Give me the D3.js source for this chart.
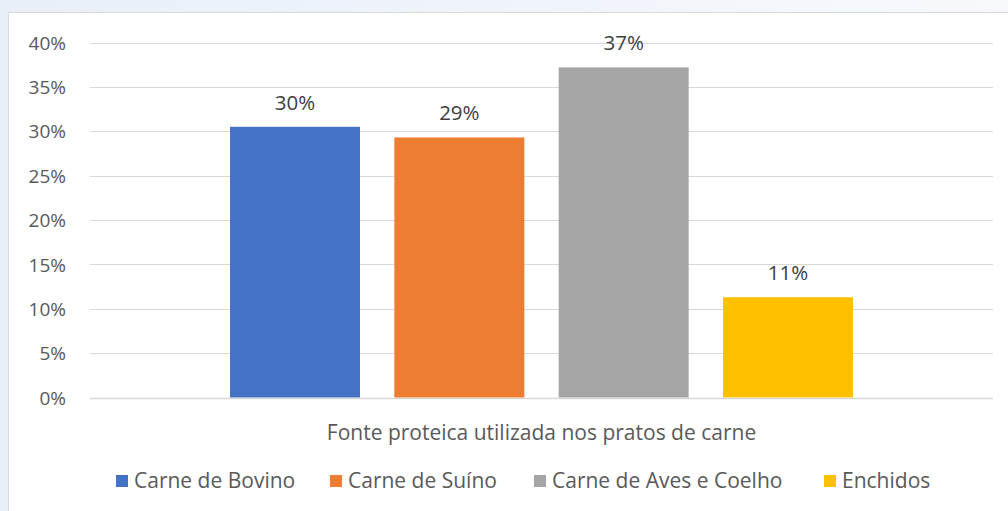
<!DOCTYPE html>
<html>
<head>
<meta charset="utf-8">
<script src="https://cdn.jsdelivr.net/npm/d3@7"></script>
<style>
  html, body { margin: 0; padding: 0; background: #ffffff; }
  svg { display: block; font-family: "Open Sans", Lato, sans-serif; }
</style>
</head>
<body>
<div id="chart"></div>
<script>
// data
const seriesNames = ["Carne de Bovino", "Carne de Suíno", "Carne de Aves e Coelho", "Enchidos"];
const seriesValues = [0.305, 0.293, 0.372, 0.113];
const valueLabels = ["30%", "29%", "37%", "11%"];
const yTicks = [0, 0.05, 0.10, 0.15, 0.20, 0.25, 0.30, 0.35, 0.40];
const axisTitle = "Fonte proteica utilizada nos pratos de carne";
const colors = ["#4472c4", "#ed7d31", "#a5a5a5", "#ffc000"];

const W = 1008, H = 511;
const plot = { left: 90, right: 993, top: 42.5, bottom: 397.5 };
const textColor = "#595959";

let svg = d3.select("#chart").append("svg")
  .attr("width", W)
  .attr("height", H);

// page background behind the chart frame
let defs = svg.append("defs");
let grad = defs.append("linearGradient")
  .attr("id", "bg")
  .attr("x1", 0).attr("y1", 0).attr("x2", 1).attr("y2", 0);
grad.append("stop").attr("offset", "0%").attr("stop-color", "#e8eff9");
grad.append("stop").attr("offset", "100%").attr("stop-color", "#f7f9fc");
svg.append("rect")
  .attr("width", W).attr("height", H)
  .attr("fill", "url(#bg)");

// chart frame
svg.append("rect")
  .attr("x", 8.5).attr("y", 12.5)
  .attr("width", W).attr("height", H)
  .attr("fill", "#ffffff")
  .attr("stroke", "#d9d9d9")
  .attr("stroke-width", 1);

let y = d3.scaleLinear()
  .domain([0, 0.4])
  .range([plot.bottom, plot.top]);

let x = d3.scaleBand()
  .domain(seriesNames)
  .range([plot.left, plot.right])
  .paddingInner(0.209)
  .paddingOuter(0.852);

// gridlines
svg.append("g")
  .selectAll("line")
  .data(yTicks)
  .join("line")
  .attr("x1", plot.left)
  .attr("x2", plot.right)
  .attr("y1", d => Math.round(y(d)) + 0.5)
  .attr("y2", d => Math.round(y(d)) + 0.5)
  .attr("stroke", "#d9d9d9")
  .attr("stroke-width", d => d === 0 ? 1.5 : 1.2);

// y axis labels
let yAxis = d3.axisLeft(y)
  .tickValues(yTicks)
  .tickFormat(d3.format(".0%"))
  .tickSize(0)
  .tickPadding(0);
let gy = svg.append("g")
  .attr("transform", "translate(66,0)")
  .call(yAxis);
gy.select(".domain").remove();
gy.selectAll("text")
  .attr("fill", textColor)
  .attr("dy", "0.35em")
  .style("font-size", "19px")
  .style("font-family", "'Open Sans', Lato, sans-serif");

// bars
svg.append("g")
  .selectAll("rect")
  .data(seriesValues)
  .join("rect")
  .attr("x", (d, i) => x(seriesNames[i]))
  .attr("y", d => y(d))
  .attr("width", x.bandwidth())
  .attr("height", d => y(0) - y(d))
  .attr("fill", (d, i) => colors[i]);

// data labels
svg.append("g")
  .selectAll("text")
  .data(seriesValues)
  .join("text")
  .attr("x", (d, i) => x(seriesNames[i]) + x.bandwidth() / 2)
  .attr("y", d => y(d) - 17)
  .attr("text-anchor", "middle")
  .attr("fill", "#404040")
  .style("font-size", "20.5px")
  .text((d, i) => valueLabels[i]);

// category axis title
svg.append("text")
  .attr("x", (plot.left + plot.right) / 2)
  .attr("y", 440)
  .attr("text-anchor", "middle")
  .attr("fill", textColor)
  .style("font-size", "21px")
  .text(axisTitle);

// legend
const legendX = [116, 330, 534, 824];
let legend = svg.append("g")
  .selectAll("g")
  .data(seriesNames)
  .join("g")
  .attr("transform", (d, i) => "translate(" + legendX[i] + ",475)");
legend.append("rect")
  .attr("width", 12).attr("height", 12)
  .attr("fill", (d, i) => colors[i]);
legend.append("text")
  .attr("x", 18)
  .attr("y", 13)
  .attr("fill", textColor)
  .style("font-size", "21px")
  .text(d => d);
</script>
</body>
</html>
